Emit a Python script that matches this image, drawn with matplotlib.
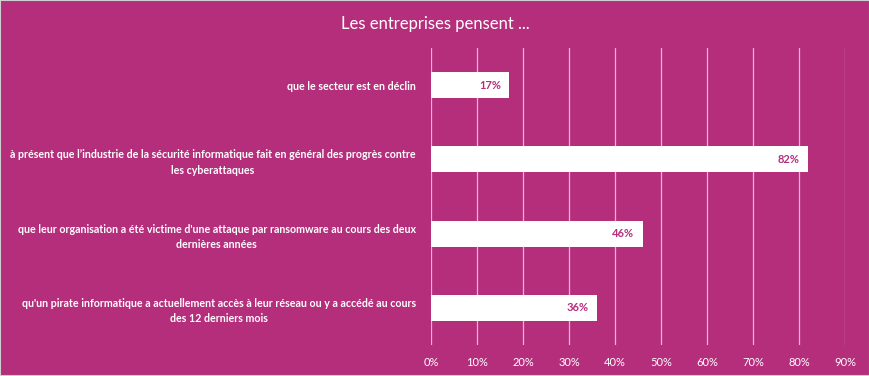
import matplotlib.pyplot as plt
import matplotlib.ticker as mticker

categories = [
    "que le secteur est en déclin",
    "à présent que l’industrie de la sécurité informatique fait en général des progrès contre\nles cyberattaques",
    "que leur organisation a été victime d'une attaque par ransomware au cours des deux\ndernières années",
    "qu'un pirate informatique a actuellement accès à leur réseau ou y a accédé au cours\ndes 12 derniers mois",
]
values = [17, 82, 46, 36]
ticks = list(range(0, 100, 10))
title = "Les entreprises pensent ..."

bg = "#B52E7C"
plt.rcParams["font.family"] = ["Lato", "DejaVu Sans"]

fig = plt.figure(figsize=(8.7, 3.76), dpi=100, facecolor=bg)
ax = fig.add_axes([431 / 870, 1 - 345 / 376, 414 / 870, 297 / 376])
ax.set_facecolor(bg)

y = list(range(len(categories)))
ax.barh(y, values, height=0.35, color="white", zorder=3)
for yi, v in zip(y, values):
    ax.text(v - 1.8, yi, f"{v}%", ha="right", va="center", color=bg,
            fontsize=8, fontweight="bold", zorder=4)

ax.set_xlim(0, 90)
ax.set_ylim(len(categories) - 0.5, -0.5)
ax.set_xticks(ticks)
ax.xaxis.set_major_formatter(mticker.FuncFormatter(lambda x, p: f"{int(x)}%"))
ax.grid(axis="x", color="#E2B8D0", linewidth=0.9, zorder=1)
ax.tick_params(axis="x", colors="white", labelsize=8, length=0, pad=9)
ax.set_yticks(y)
ax.set_yticklabels(categories, fontsize=7.7, fontweight="bold", color="white",
                   multialignment="center", linespacing=1.5)
ax.tick_params(axis="y", length=0, pad=11)
for s in ax.spines.values():
    s.set_visible(False)

fig.text(0.5, 1 - 24 / 376, title, ha="center", va="center", color="white", fontsize=12)
fig.patches.append(plt.Rectangle((0, 0), 1, 1, transform=fig.transFigure,
                                 fill=False, edgecolor="#D0D0D0", linewidth=1.5))

fig.savefig("out.png", dpi=100, facecolor=bg)
